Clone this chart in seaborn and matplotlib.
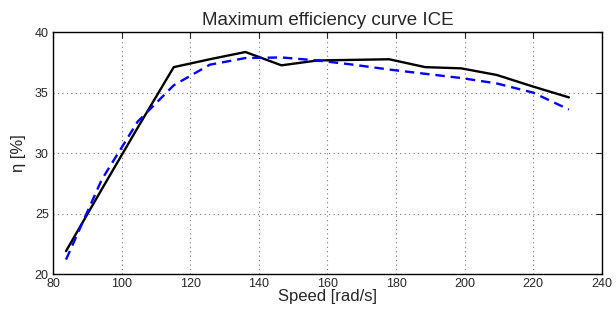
import matplotlib
matplotlib.use("Agg")
import matplotlib.pyplot as plt
import seaborn as sns

# engine speed [rad/s] (800..2200 rpm)
speed = [83.8, 94.2, 104.7, 115.2, 125.7, 136.1, 146.6, 157.1, 167.6,
         178.0, 188.5, 199.0, 209.4, 219.9, 230.4]
eta_max = [21.9, 27.0, 32.1, 37.1, 37.75, 38.35, 37.25, 37.65, 37.7,
           37.75, 37.1, 37.0, 36.45, 35.5, 34.6]
eta_fit = [21.2, 27.8, 32.6, 35.6, 37.3, 37.85, 37.9, 37.65, 37.3,
           36.9, 36.55, 36.2, 35.75, 35.0, 33.6]

xticks = [80, 100, 120, 140, 160, 180, 200, 220, 240]
yticks = [20, 25, 30, 35, 40]

sns.set_style("white")
plt.rcParams['font.family'] = ['Liberation Sans', 'DejaVu Sans']

fig = plt.figure(figsize=(6.16, 3.14), dpi=100)
ax = fig.add_axes([0.086, 0.127, 0.891, 0.771])

sns.lineplot(x=speed, y=eta_max, color='black', linewidth=1.7, ax=ax)
sns.lineplot(x=speed, y=eta_fit, color='blue', linewidth=1.7, ax=ax,
             dashes=False, linestyle=(0, (4, 2.5)))

ax.set_xlim(80, 240)
ax.set_ylim(20, 40)
ax.set_xticks(xticks)
ax.set_yticks(yticks)
ax.grid(True, linestyle=(0, (1, 3)), color='#777777', linewidth=0.8)
ax.tick_params(direction='in', top=True, right=True, labelsize=9, length=4,
               width=0.8, pad=3)
for s in ax.spines.values():
    s.set_color('black')
    s.set_linewidth(1.0)

ax.set_title('Maximum efficiency curve ICE', fontsize=13.5, pad=5)
ax.set_xlabel('Speed [rad/s]', fontsize=12, labelpad=-1)
ax.set_ylabel('η [%]', fontsize=12, labelpad=6)

fig.savefig('out.png', dpi=100)
